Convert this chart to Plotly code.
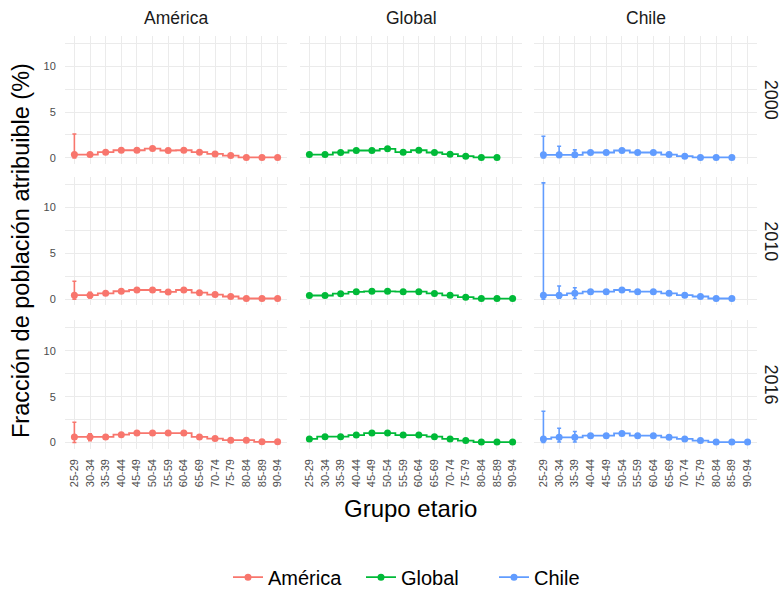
import plotly.graph_objects as go

# Age groups on the x axis
age_groups = ["25-29", "30-34", "35-39", "40-44", "45-49", "50-54", "55-59",
              "60-64", "65-69", "70-74", "75-79", "80-84", "85-89", "90-94"]

regions = ["América", "Global", "Chile"]
years = ["2000", "2010", "2016"]
colors = {"América": "#F8766D", "Global": "#00BA38", "Chile": "#619CFF"}

# Attributable fraction (%) with upper / lower confidence limits
america_2000 = [0.35, 0.35, 0.62, 0.83, 0.83, 1.01, 0.80, 0.83, 0.62, 0.43, 0.25, 0.04, 0.04, 0.04]
america_2000_hi = [2.60, 0.55, 0.75, 0.95, 0.95, 1.15, 0.93, 0.95, 0.75, 0.55, 0.35, 0.12, 0.12, 0.12]
america_2000_lo = [0.00, 0.15, 0.50, 0.70, 0.70, 0.88, 0.68, 0.70, 0.50, 0.32, 0.15, 0.00, 0.00, 0.00]

global_2000 = [0.36, 0.36, 0.58, 0.80, 0.80, 0.98, 0.62, 0.83, 0.58, 0.40, 0.18, 0.04, 0.04, None]
global_2000_hi = [0.48, 0.48, 0.70, 0.92, 0.92, 1.10, 0.74, 0.95, 0.70, 0.52, 0.28, 0.10, 0.10, None]
global_2000_lo = [0.25, 0.25, 0.47, 0.68, 0.68, 0.86, 0.50, 0.71, 0.47, 0.28, 0.08, 0.00, 0.00, None]

chile_2000 = [0.33, 0.33, 0.33, 0.58, 0.58, 0.80, 0.58, 0.58, 0.36, 0.18, 0.04, 0.04, 0.04, None]
chile_2000_hi = [2.35, 1.27, 0.87, 0.72, 0.72, 0.94, 0.72, 0.72, 0.50, 0.30, 0.12, 0.10, 0.10, None]
chile_2000_lo = [0.00, 0.05, 0.10, 0.45, 0.45, 0.66, 0.45, 0.45, 0.24, 0.08, 0.00, 0.00, 0.00, None]

america_2010 = [0.43, 0.43, 0.64, 0.86, 1.00, 1.00, 0.79, 1.00, 0.71, 0.50, 0.29, 0.07, 0.07, 0.07]
america_2010_hi = [1.96, 0.75, 0.78, 0.98, 1.12, 1.12, 0.92, 1.12, 0.83, 0.62, 0.40, 0.14, 0.14, 0.14]
america_2010_lo = [0.00, 0.12, 0.50, 0.74, 0.88, 0.88, 0.67, 0.88, 0.59, 0.38, 0.18, 0.00, 0.00, 0.00]

global_2010 = [0.40, 0.40, 0.60, 0.80, 0.85, 0.85, 0.82, 0.82, 0.62, 0.42, 0.22, 0.06, 0.06, 0.06]
global_2010_hi = [0.52, 0.52, 0.72, 0.92, 0.97, 0.97, 0.94, 0.94, 0.74, 0.54, 0.32, 0.12, 0.12, 0.12]
global_2010_lo = [0.28, 0.28, 0.48, 0.68, 0.73, 0.73, 0.70, 0.70, 0.50, 0.30, 0.12, 0.00, 0.00, 0.00]

chile_2010 = [0.43, 0.43, 0.64, 0.82, 0.82, 1.00, 0.82, 0.82, 0.64, 0.43, 0.29, 0.07, 0.07, None]
chile_2010_hi = [12.70, 1.43, 1.25, 0.96, 0.96, 1.14, 0.96, 0.96, 0.78, 0.56, 0.40, 0.14, 0.14, None]
chile_2010_lo = [0.00, 0.10, 0.07, 0.68, 0.68, 0.86, 0.68, 0.68, 0.50, 0.30, 0.18, 0.00, 0.00, None]

america_2016 = [0.60, 0.60, 0.60, 0.85, 1.02, 1.02, 1.02, 1.02, 0.60, 0.42, 0.25, 0.25, 0.07, 0.07]
america_2016_hi = [2.20, 0.95, 0.75, 0.98, 1.15, 1.15, 1.15, 1.15, 0.73, 0.54, 0.36, 0.36, 0.14, 0.14]
america_2016_lo = [0.00, 0.20, 0.45, 0.72, 0.89, 0.89, 0.89, 0.89, 0.47, 0.30, 0.14, 0.14, 0.00, 0.00]

global_2016 = [0.39, 0.63, 0.63, 0.81, 1.02, 1.02, 0.81, 0.81, 0.63, 0.39, 0.21, 0.04, 0.04, 0.04]
global_2016_hi = [0.51, 0.75, 0.75, 0.93, 1.14, 1.14, 0.93, 0.93, 0.75, 0.51, 0.31, 0.10, 0.10, 0.10]
global_2016_lo = [0.27, 0.51, 0.51, 0.69, 0.90, 0.90, 0.69, 0.69, 0.51, 0.27, 0.11, 0.00, 0.00, 0.00]

chile_2016 = [0.39, 0.56, 0.56, 0.74, 0.74, 0.99, 0.74, 0.74, 0.56, 0.39, 0.21, 0.04, 0.04, 0.04]
chile_2016_hi = [3.40, 1.55, 1.20, 0.88, 0.88, 1.13, 0.88, 0.88, 0.70, 0.52, 0.32, 0.10, 0.10, 0.10]
chile_2016_lo = [0.00, 0.05, 0.05, 0.60, 0.60, 0.85, 0.60, 0.60, 0.42, 0.27, 0.11, 0.00, 0.00, 0.00]

panels = {
    ("2000", "América"): (america_2000, america_2000_hi, america_2000_lo),
    ("2000", "Global"): (global_2000, global_2000_hi, global_2000_lo),
    ("2000", "Chile"): (chile_2000, chile_2000_hi, chile_2000_lo),
    ("2010", "América"): (america_2010, america_2010_hi, america_2010_lo),
    ("2010", "Global"): (global_2010, global_2010_hi, global_2010_lo),
    ("2010", "Chile"): (chile_2010, chile_2010_hi, chile_2010_lo),
    ("2016", "América"): (america_2016, america_2016_hi, america_2016_lo),
    ("2016", "Global"): (global_2016, global_2016_hi, global_2016_lo),
    ("2016", "Chile"): (chile_2016, chile_2016_hi, chile_2016_lo),
}

W, H = 784, 597
col_px = [(65, 287), (300, 522), (534, 757)]
row_px = [(36, 166), (179, 309), (324, 454)]
y_range = [-0.68, 13.35]
grid = "#EBEBEB"
font_family = "Liberation Sans, Arial"

fig = go.Figure()
layout = {}

for r, year in enumerate(years):
    for c, region in enumerate(regions):
        n = r * 3 + c + 1
        xa, ya = f"x{'' if n == 1 else n}", f"y{'' if n == 1 else n}"
        xkey, ykey = f"xaxis{'' if n == 1 else n}", f"yaxis{'' if n == 1 else n}"
        vals, hi, lo = panels[(year, region)]
        plus = [None if v is None else h - v for v, h in zip(vals, hi)]
        minus = [None if v is None else v - l for v, l in zip(vals, lo)]
        col = colors[region]
        fig.add_trace(go.Scatter(
            x=age_groups, y=vals, xaxis=xa, yaxis=ya,
            mode="lines+markers", name=region,
            line=dict(color=col, width=1.8, shape="hvh"),
            marker=dict(color=col, size=7),
            error_y=dict(type="data", symmetric=False, array=plus, arrayminus=minus,
                         color=col, thickness=1.6, width=2),
            showlegend=(r == 0), legendgroup=region,
        ))
        x0, x1 = col_px[c]
        y0, y1 = row_px[r]
        layout[xkey] = dict(
            domain=[x0 / W, x1 / W], anchor=ya,
            type="category", categoryorder="array", categoryarray=age_groups,
            range=[-0.6, 13.6], showgrid=True, gridcolor=grid, gridwidth=1.1,
            zeroline=False, showline=False,
            showticklabels=(r == 2), tickangle=-90,
            ticks="outside", ticklen=5, tickcolor="rgba(0,0,0,0)",
            tickfont=dict(family=font_family, size=11, color="#4D4D4D"),
        )
        layout[ykey] = dict(
            domain=[1 - y1 / H, 1 - y0 / H], anchor=xa,
            range=y_range, tickvals=[0, 2.5, 5, 7.5, 10, 12.5],
            ticktext=["0", "", "5", "", "10", ""],
            showgrid=True, gridcolor=grid, gridwidth=1.1,
            zeroline=False, showline=False, showticklabels=(c == 0),
            ticks="outside", ticklen=6, tickcolor="rgba(0,0,0,0)",
            tickfont=dict(family=font_family, size=11, color="#4D4D4D"),
        )

annotations = []
for c, region in enumerate(regions):
    x0, x1 = col_px[c]
    annotations.append(dict(
        text=region, x=(x0 + x1) / 2 / W, y=1 - 18 / H, xref="paper", yref="paper",
        showarrow=False, xanchor="center", yanchor="middle",
        font=dict(family=font_family, size=17.5, color="#1A1A1A")))
for r, year in enumerate(years):
    y0, y1 = row_px[r]
    annotations.append(dict(
        text=year, x=771 / W, y=1 - (y0 + y1) / 2 / H, xref="paper", yref="paper",
        showarrow=False, xanchor="center", yanchor="middle", textangle=90,
        font=dict(family=font_family, size=18, color="#1A1A1A")))

annotations.append(dict(
    text="Fracción de población atribuible (%)", x=21 / W, y=1 - 254 / H,
    xref="paper", yref="paper", showarrow=False, textangle=-90,
    xanchor="center", yanchor="middle",
    font=dict(family=font_family, size=23.5, color="#000000")))
annotations.append(dict(
    text="Grupo etario", x=410 / W, y=1 - 515 / H,
    xref="paper", yref="paper", showarrow=False,
    xanchor="center", yanchor="middle",
    font=dict(family=font_family, size=24, color="#000000")))

fig.update_layout(
    width=W, height=H, margin=dict(l=0, r=0, t=0, b=0),
    paper_bgcolor="white", plot_bgcolor="white",
    annotations=annotations,
    showlegend=True,
    legend=dict(orientation="h", x=228 / W, y=1 - 584 / H,
                xanchor="left", yanchor="middle",
                font=dict(family=font_family, size=20, color="#000000"),
                itemwidth=30, entrywidth=88, entrywidthmode="pixels",
                bgcolor="rgba(0,0,0,0)"),
    **layout,
)

fig.write_html("out.html")
